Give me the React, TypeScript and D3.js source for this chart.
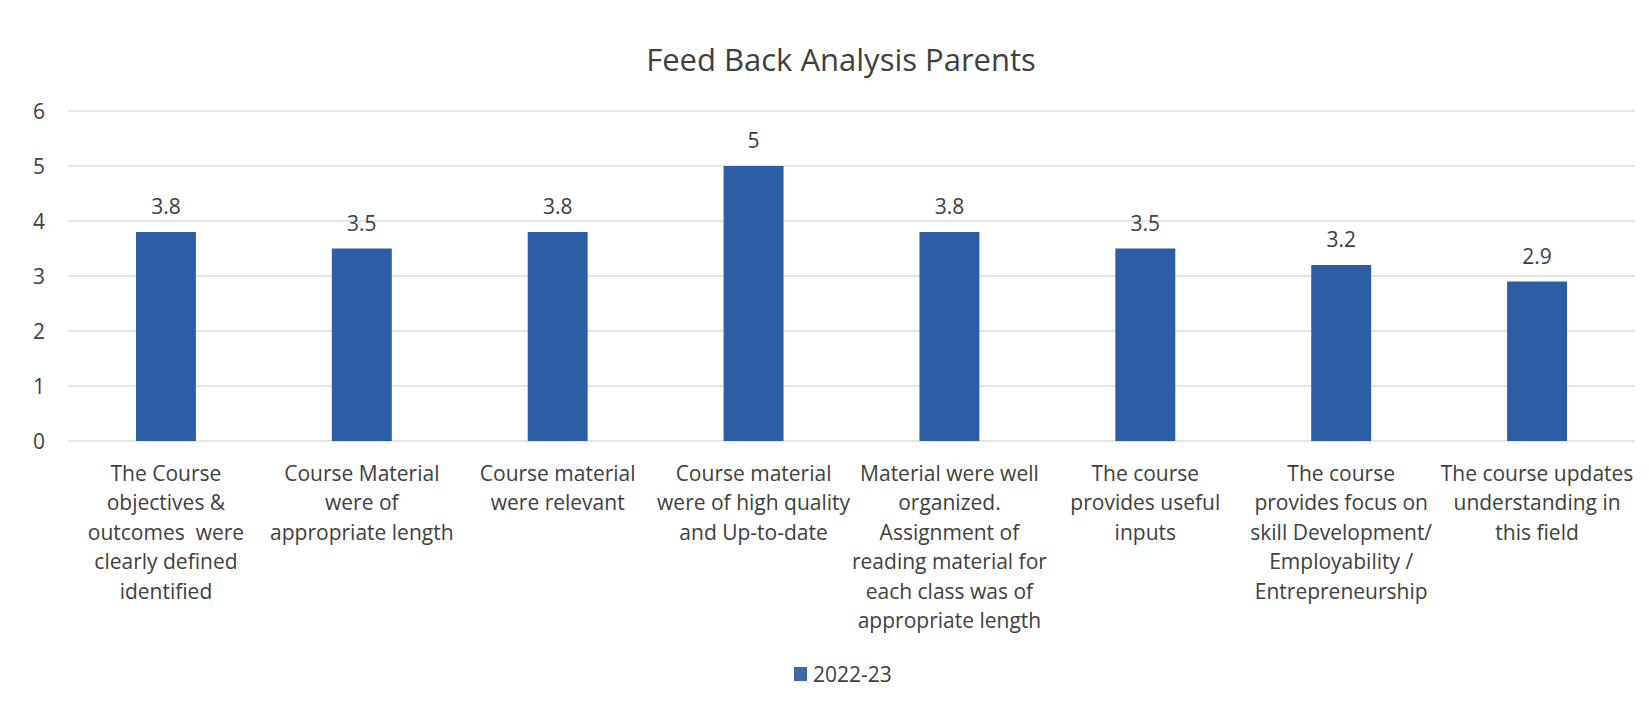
import React from "react";
import * as d3 from "d3";

const categories: string[][] = [
  ["The Course", "objectives &", "outcomes  were", "clearly defined", "identified"],
  ["Course Material", "were of", "appropriate length"],
  ["Course material", "were relevant"],
  ["Course material", "were of high quality", "and Up-to-date"],
  ["Material were well", "organized.", "Assignment of", "reading material for", "each class was of", "appropriate length"],
  ["The course", "provides useful", "inputs"],
  ["The course", "provides focus on", "skill Development/", "Employability /", "Entrepreneurship"],
  ["The course updates", "understanding in", "this field"],
];
const values: number[] = [3.8, 3.5, 3.8, 5, 3.8, 3.5, 3.2, 2.9];
const valueLabels: string[] = ["3.8", "3.5", "3.8", "5", "3.8", "3.5", "3.2", "2.9"];
const yTicks: number[] = [0, 1, 2, 3, 4, 5, 6];
const seriesName = "2022-23";
const title = "Feed Back Analysis Parents";

const W = 1649;
const H = 707;
const left = 68;
const right = 1635;
const top = 111;
const bottom = 441;
const font = "'Open Sans', sans-serif";
const textColor = "#404040";
const barColor = "#2C5DA5";

export default function App() {
  const x = d3
    .scaleBand<number>()
    .domain(values.map((_, i) => i))
    .range([left, right])
    .paddingInner(0.694)
    .paddingOuter(0.347);
  const y = d3.scaleLinear().domain([0, 6]).range([bottom, top]);
  const band = (right - left) / values.length;

  return (
    <svg
      width={W}
      height={H}
      viewBox={`0 0 ${W} ${H}`}
      style={{ position: "absolute", left: 0, top: 0, background: "#fff" }}
      fontFamily={font}
    >
      <rect x={0} y={0} width={W} height={H} fill="#fff" />
      <text x={841} y={59} textAnchor="middle" dominantBaseline="central" fontSize={31} fill={textColor}>
        {title}
      </text>
      {yTicks.map((t) => (
        <g key={t}>
          <line x1={left} x2={right} y1={y(t)} y2={y(t)} stroke="#dcdcdc" strokeWidth={1.3} />
          <text x={45} y={y(t)} textAnchor="end" dominantBaseline="central" fontSize={21} fill={textColor}>
            {t}
          </text>
        </g>
      ))}
      {values.map((v, i) => {
        const bx = x(i)!;
        const cx = left + band * (i + 0.5);
        return (
          <g key={i}>
            <rect x={bx} y={y(v)} width={x.bandwidth()} height={y(0) - y(v)} fill={barColor} />
            <text x={cx} y={y(v) - 26} textAnchor="middle" dominantBaseline="central" fontSize={21} fill={textColor}>
              {valueLabels[i]}
            </text>
            {categories[i].map((line, j) => (
              <text
                key={j}
                x={cx}
                y={472.5 + j * 29.5}
                textAnchor="middle"
                dominantBaseline="central"
                fontSize={21}
                fill={textColor}
                style={{ whiteSpace: "pre" }}
              >
                {line}
              </text>
            ))}
          </g>
        );
      })}
      <rect x={794} y={667} width={13} height={14} fill="#3E68A8" />
      <text x={813} y={674} dominantBaseline="central" fontSize={21} fill={textColor}>
        {seriesName}
      </text>
    </svg>
  );
}
